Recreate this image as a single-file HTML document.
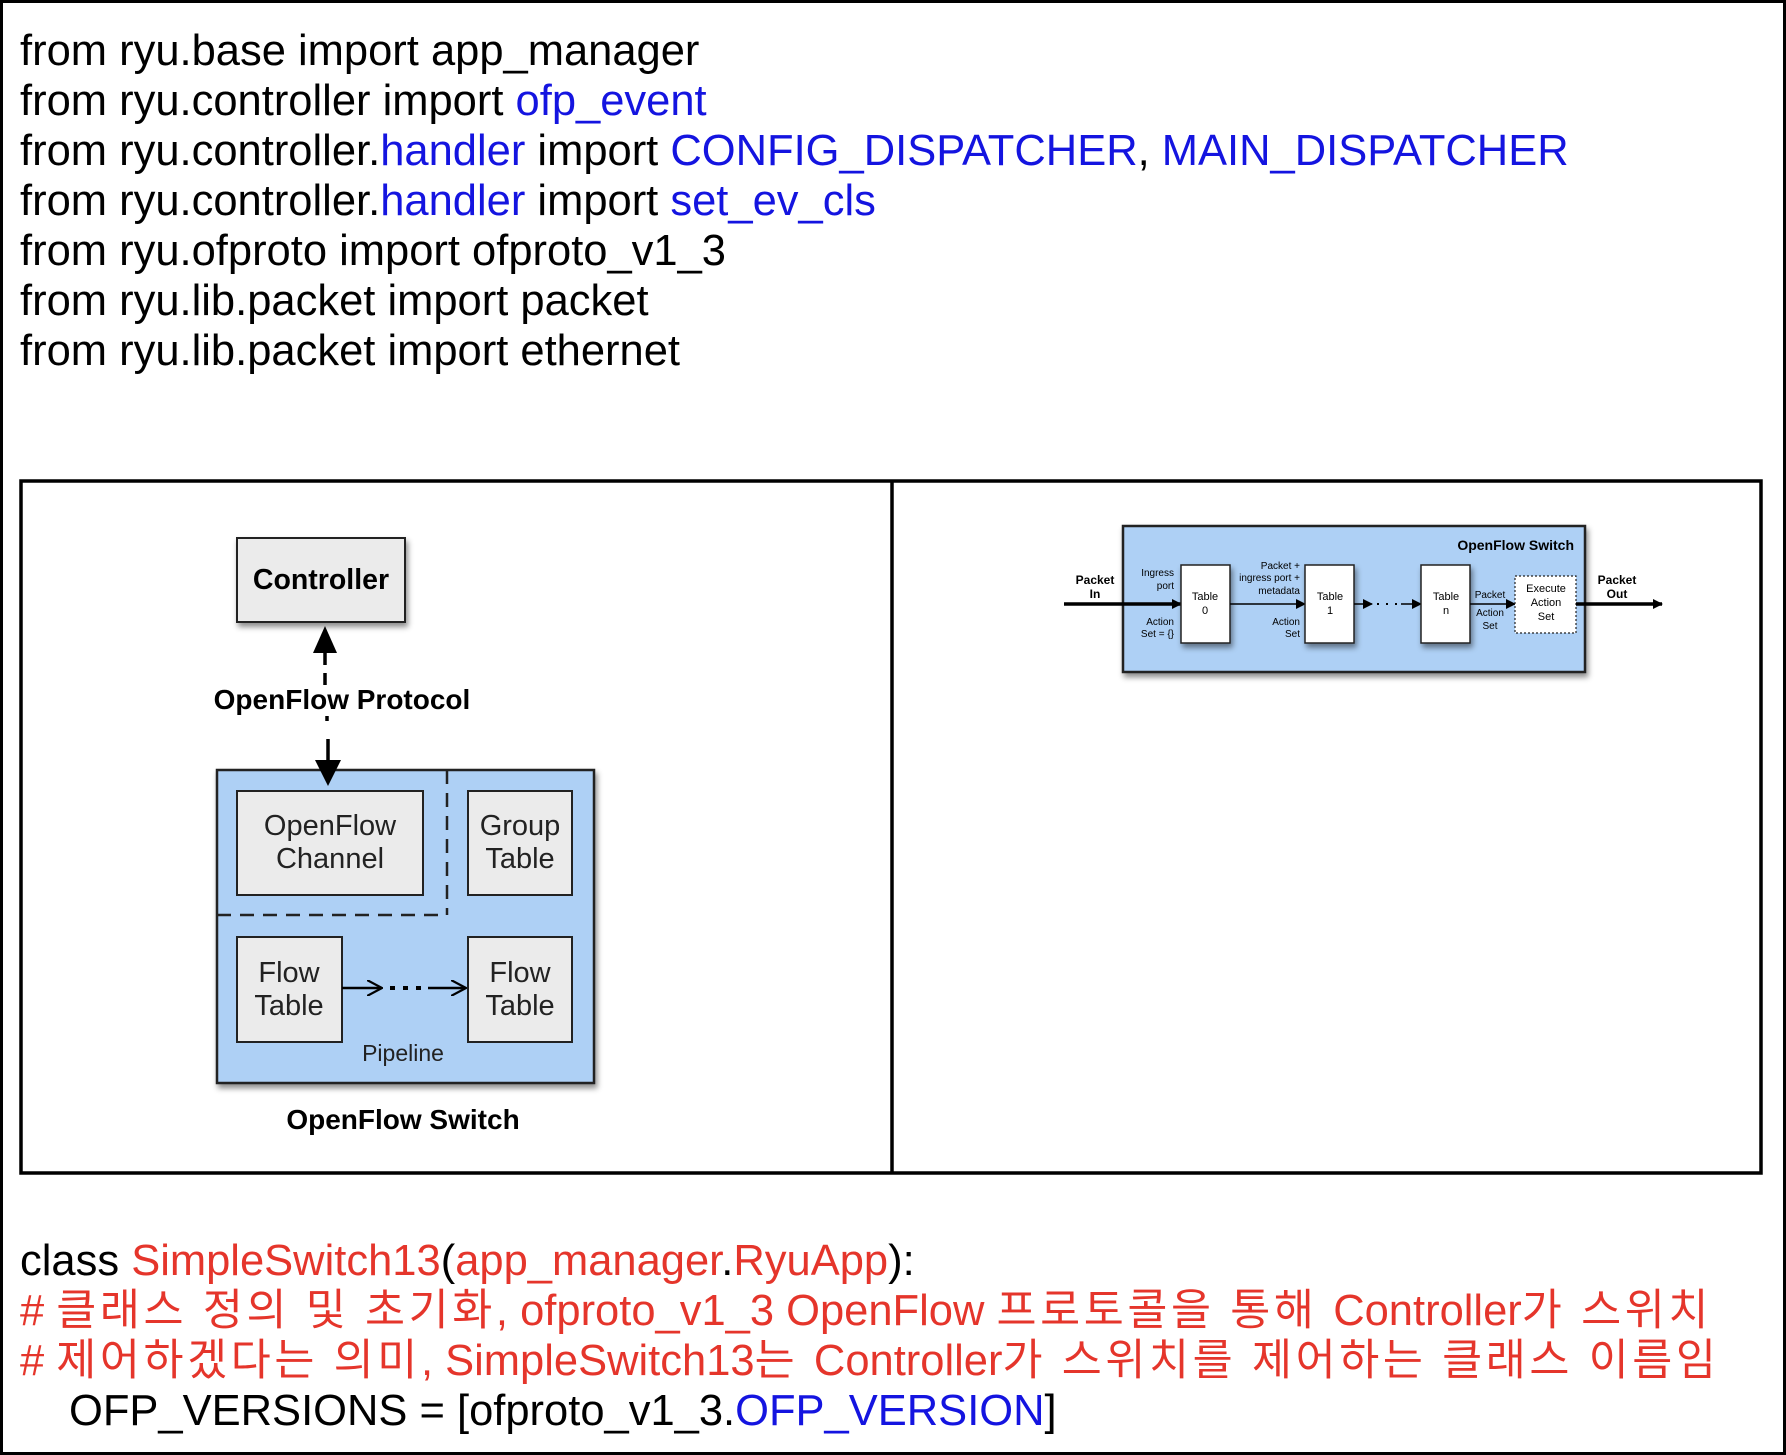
<!DOCTYPE html>
<html><head><meta charset="utf-8">
<style>
html,body{margin:0;padding:0;background:#fff;}
#pg{position:relative;width:1786px;height:1455px;overflow:hidden;box-sizing:border-box;border:3px solid #000;}
.t{position:absolute;left:17px;font-family:"Liberation Sans","Noto Sans CJK KR",sans-serif;font-size:43.5px;line-height:50px;white-space:nowrap;color:#000;}
.b{color:#1414e0;}
.r{color:#e5352b;}
.k{letter-spacing:3.6px;}
svg{position:absolute;left:-3px;top:-3px;}
</style></head><body><div id="pg">
<div class="t" style="top:23px">from ryu.base import app_manager</div>
<div class="t" style="top:73px">from ryu.controller import <span class="b">ofp_event</span></div>
<div class="t" style="top:123px">from ryu.controller.<span class="b">handler</span> import <span class="b">CONFIG_DISPATCHER</span>, <span class="b">MAIN_DISPATCHER</span></div>
<div class="t" style="top:173px">from ryu.controller.<span class="b">handler</span> import <span class="b">set_ev_cls</span></div>
<div class="t" style="top:223px">from ryu.ofproto import ofproto_v1_3</div>
<div class="t" style="top:273px">from ryu.lib.packet import packet</div>
<div class="t" style="top:323px">from ryu.lib.packet import ethernet</div>

<svg width="1786" height="1455" viewBox="0 0 1786 1455" font-family="Liberation Sans, sans-serif">
<defs>
<marker id="ah" markerWidth="10" markerHeight="10" refX="9" refY="5" orient="auto" markerUnits="userSpaceOnUse"><path d="M0,0 L10,5 L0,10 z" fill="#000"/></marker>
<marker id="ao" markerWidth="16" markerHeight="16" refX="15" refY="8" orient="auto" markerUnits="userSpaceOnUse"><path d="M0,0 L15,8 L0,16" fill="none" stroke="#000" stroke-width="2.2"/></marker>
<filter id="sh" x="-10%" y="-10%" width="130%" height="130%"><feDropShadow dx="2" dy="4" stdDeviation="3" flood-color="#000" flood-opacity="0.45"/></filter>
</defs>
<rect x="21" y="481" width="1740" height="692" fill="none" stroke="#000" stroke-width="3.5"/>
<line x1="892" y1="481" x2="892" y2="1173" stroke="#000" stroke-width="3.5"/>

<!-- left diagram -->
<rect x="237" y="538" width="168" height="84" fill="#ebebeb" stroke="#222" stroke-width="2" filter="url(#sh)"/>
<text x="321" y="589" text-anchor="middle" font-size="28.5" font-weight="bold">Controller</text>
<path d="M313,653 L325,626 L337,653 z" fill="#000"/>
<line x1="325" y1="653" x2="325" y2="686" stroke="#000" stroke-width="3.5" stroke-dasharray="12,8"/>
<text x="342" y="709" text-anchor="middle" font-size="28" font-weight="bold">OpenFlow Protocol</text>
<line x1="327" y1="716" x2="327" y2="728" stroke="#000" stroke-width="3.5" stroke-dasharray="5,7"/>
<line x1="328" y1="739" x2="328" y2="762" stroke="#000" stroke-width="3.5"/>
<rect x="217" y="770" width="377" height="313" fill="#aed0f5" stroke="#222" stroke-width="2.5" filter="url(#sh)"/>
<path d="M315,760 L328,786 L341,760 z" fill="#000"/>
<line x1="447" y1="770" x2="447" y2="915" stroke="#222" stroke-width="2.5" stroke-dasharray="14,9"/>
<line x1="217" y1="915" x2="447" y2="915" stroke="#222" stroke-width="2.5" stroke-dasharray="14,9"/>
<rect x="237" y="791" width="186" height="104" fill="#ebebeb" stroke="#222" stroke-width="2"/>
<text x="330" y="835" text-anchor="middle" font-size="29" fill="#222">OpenFlow</text>
<text x="330" y="868" text-anchor="middle" font-size="29" fill="#222">Channel</text>
<rect x="468" y="791" width="104" height="104" fill="#ebebeb" stroke="#222" stroke-width="2"/>
<text x="520" y="835" text-anchor="middle" font-size="29" fill="#222">Group</text>
<text x="520" y="868" text-anchor="middle" font-size="29" fill="#222">Table</text>
<rect x="237" y="937" width="105" height="105" fill="#ebebeb" stroke="#222" stroke-width="2"/>
<text x="289" y="982" text-anchor="middle" font-size="29" fill="#222">Flow</text>
<text x="289" y="1015" text-anchor="middle" font-size="29" fill="#222">Table</text>
<rect x="468" y="937" width="104" height="105" fill="#ebebeb" stroke="#222" stroke-width="2"/>
<text x="520" y="982" text-anchor="middle" font-size="29" fill="#222">Flow</text>
<text x="520" y="1015" text-anchor="middle" font-size="29" fill="#222">Table</text>
<line x1="342" y1="988" x2="382" y2="988" stroke="#000" stroke-width="2.5" marker-end="url(#ao)"/>
<line x1="390" y1="988" x2="422" y2="988" stroke="#000" stroke-width="4" stroke-dasharray="5,8"/>
<line x1="428" y1="988" x2="466" y2="988" stroke="#000" stroke-width="2.5" marker-end="url(#ao)"/>
<text x="403" y="1061" text-anchor="middle" font-size="23" fill="#222">Pipeline</text>
<text x="403" y="1129" text-anchor="middle" font-size="28" font-weight="bold">OpenFlow Switch</text>

<!-- right diagram -->
<rect x="1123" y="526" width="462" height="146" fill="#aed0f5" stroke="#222" stroke-width="2.5" filter="url(#sh)"/>
<text x="1574" y="550" text-anchor="end" font-size="14" font-weight="bold">OpenFlow Switch</text>
<text x="1095" y="584" text-anchor="middle" font-size="12" font-weight="bold">Packet</text>
<text x="1095" y="598" text-anchor="middle" font-size="12" font-weight="bold">In</text>
<line x1="1064" y1="604" x2="1181" y2="604" stroke="#000" stroke-width="3.5" marker-end="url(#ah)"/>
<rect x="1181" y="565" width="49" height="78" fill="#fff" stroke="#222" stroke-width="1.5" filter="url(#sh)"/>
<text x="1205" y="600" text-anchor="middle" font-size="11">Table</text>
<text x="1205" y="614" text-anchor="middle" font-size="11">0</text>
<text x="1174" y="576" text-anchor="end" font-size="10">Ingress</text>
<text x="1174" y="589" text-anchor="end" font-size="10">port</text>
<text x="1174" y="625" text-anchor="end" font-size="10">Action</text>
<text x="1174" y="637" text-anchor="end" font-size="10">Set = {}</text>
<line x1="1230" y1="604" x2="1305" y2="604" stroke="#000" stroke-width="1.5" marker-end="url(#ah)"/>
<text x="1300" y="569" text-anchor="end" font-size="10">Packet +</text>
<text x="1300" y="581" text-anchor="end" font-size="10">ingress port +</text>
<text x="1300" y="594" text-anchor="end" font-size="10">metadata</text>
<text x="1300" y="625" text-anchor="end" font-size="10">Action</text>
<text x="1300" y="637" text-anchor="end" font-size="10">Set</text>
<rect x="1305" y="565" width="49" height="78" fill="#fff" stroke="#222" stroke-width="1.5" filter="url(#sh)"/>
<text x="1330" y="600" text-anchor="middle" font-size="11">Table</text>
<text x="1330" y="614" text-anchor="middle" font-size="11">1</text>
<line x1="1354" y1="604" x2="1372" y2="604" stroke="#000" stroke-width="1.5" marker-end="url(#ah)"/>
<line x1="1377" y1="604" x2="1398" y2="604" stroke="#000" stroke-width="2" stroke-dasharray="2,7"/>
<line x1="1401" y1="604" x2="1421" y2="604" stroke="#000" stroke-width="1.5" marker-end="url(#ah)"/>
<rect x="1421" y="565" width="49" height="78" fill="#fff" stroke="#222" stroke-width="1.5" filter="url(#sh)"/>
<text x="1446" y="600" text-anchor="middle" font-size="11">Table</text>
<text x="1446" y="614" text-anchor="middle" font-size="11">n</text>
<text x="1490" y="598" text-anchor="middle" font-size="10">Packet</text>
<text x="1490" y="616" text-anchor="middle" font-size="10">Action</text>
<text x="1490" y="629" text-anchor="middle" font-size="10">Set</text>
<line x1="1470" y1="604" x2="1515" y2="604" stroke="#000" stroke-width="1.5" marker-end="url(#ah)"/>
<rect x="1515" y="576" width="61" height="57" fill="#fff" stroke="#222" stroke-width="1.2" stroke-dasharray="2,2"/>
<text x="1546" y="592" text-anchor="middle" font-size="11">Execute</text>
<text x="1546" y="606" text-anchor="middle" font-size="11">Action</text>
<text x="1546" y="620" text-anchor="middle" font-size="11">Set</text>
<text x="1617" y="584" text-anchor="middle" font-size="12" font-weight="bold">Packet</text>
<text x="1617" y="598" text-anchor="middle" font-size="12" font-weight="bold">Out</text>
<line x1="1576" y1="604" x2="1662" y2="604" stroke="#000" stroke-width="3.5" marker-end="url(#ah)"/>
</svg>

<div class="t" style="top:1233px">class <span class="r">SimpleSwitch13</span>(<span class="r">app_manager</span>.<span class="r">RyuApp</span>):</div>
<div class="t r" style="top:1283px"># <span class="k">클래스 정의 및 초기화</span>, ofproto_v1_3 OpenFlow <span class="k"> 프로토콜을 통해 </span>Controller<span class="k">가 스위치</span></div>
<div class="t r" style="top:1333px"># <span class="k">제어하겠다는 의미</span>, SimpleSwitch13<span class="k">는 </span>Controller<span class="k">가 스위치를 제어하는 클래스 이름임</span></div>
<div class="t" style="top:1383px;left:66px">OFP_VERSIONS = [ofproto_v1_3.<span class="b">OFP_VERSION</span>]</div>
</div></body></html>
